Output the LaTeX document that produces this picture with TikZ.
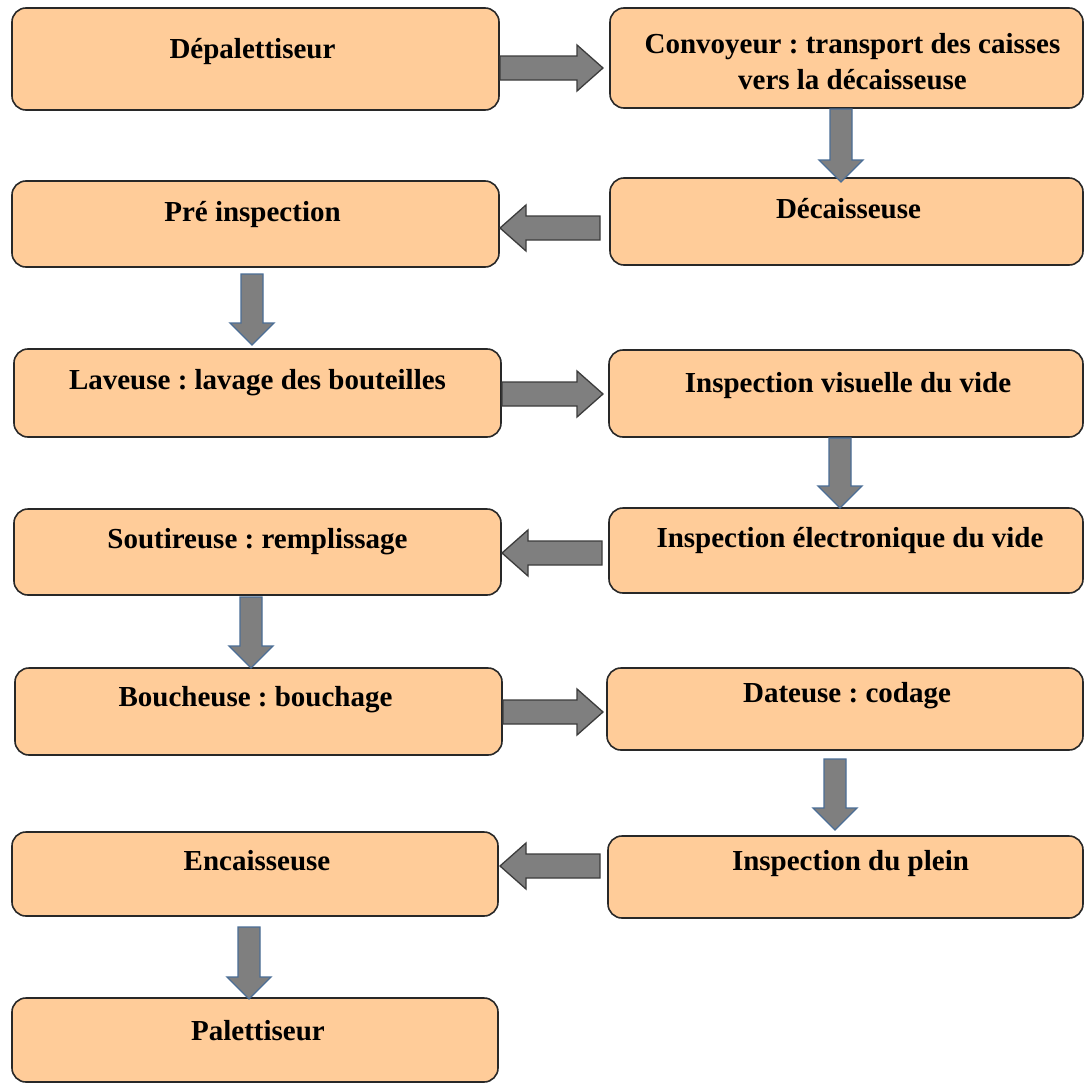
\documentclass[tikz,border=0pt]{standalone}
\usepackage{fontspec}
\setmainfont{Liberation Serif}
\usetikzlibrary{calc}
\frenchspacing
\definecolor{peach}{RGB}{255,204,153}
\definecolor{arrgray}{RGB}{127,127,127}
\definecolor{hedge}{RGB}{60,60,60}
\definecolor{vedge}{RGB}{75,110,150}
\definecolor{boxedge}{RGB}{40,40,40}
\tikzset{
  box/.style={draw=boxedge, line width=1.6pt, fill=peach, rounded corners=14pt, inner sep=0pt, outer sep=0pt},
  lbl/.style={font=\fontsize{29}{36}\selectfont\bfseries, inner sep=0pt, align=center, anchor=base, text=black},
  harr/.style={fill=arrgray, draw=hedge, line width=1.3pt},
  varr/.style={fill=arrgray, draw=vedge, line width=1.3pt},
}
\newcommand\boxat[5]{\node[box, minimum width={(#4-#2)*1pt}, minimum height={(#5-#3)*1pt}] (#1) at ({(#2+#4)/2},{(#3+#5)/2}) {};}
\newcommand\harrow[2]{\path[harr] let \p1=(#1), \p2=(#2), \n1={ifthenelse(\x2>\x1,1,-1)} in
  (\x1,{\y1+12pt}) -- ({\x2-\n1*26pt},{\y1+12pt}) -- ({\x2-\n1*26pt},{\y1+23pt}) -- (\x2,\y1) --
  ({\x2-\n1*26pt},{\y1-23pt}) -- ({\x2-\n1*26pt},{\y1-12pt}) -- (\x1,{\y1-12pt}) -- cycle;}
\newcommand\varrow[2]{\path[varr] let \p1=(#1), \p2=(#2), \n1={ifthenelse(\y2>\y1,1,-1)} in
  ({\x1-11pt},\y1) -- ({\x1-11pt},{\y2-\n1*22pt}) -- ({\x1-22pt},{\y2-\n1*22pt}) -- (\x1,\y2) --
  ({\x1+22pt},{\y2-\n1*22pt}) -- ({\x1+11pt},{\y2-\n1*22pt}) -- ({\x1+11pt},\y1) -- cycle;}
\begin{document}
\begin{tikzpicture}[x=1pt,y=-1pt]
\fill[white] (0,0) rectangle (1085,1084);
\useasboundingbox (0,0) rectangle (1085,1084);
% boxes
\boxat{L1}{12}{8}{499}{110}
\boxat{R1}{610}{8}{1083}{108}
\boxat{L2}{12}{181}{499}{267}
\boxat{R2}{610}{178}{1083}{265}
\boxat{L3}{14}{349}{501}{437}
\boxat{R3}{609}{350}{1083}{437}
\boxat{L4}{14}{509}{501}{595}
\boxat{R4}{609}{508}{1083}{593}
\boxat{L5}{15}{668}{502}{755}
\boxat{R5}{607}{668}{1083}{750}
\boxat{L6}{12}{832}{498}{916}
\boxat{R6}{608}{836}{1083}{918}
\boxat{L7}{12}{998}{498}{1082}
% labels
\node[lbl] (L1t) at ($(L1.north)+(-3,50)$) {Dépalettiseur};
\node[lbl] (R1t) at ($(R1.north)+(6,81)$) {Convoyeur : transport des caisses\\vers la décaisseuse};
\node[lbl] (L2t) at ($(L2.north)+(-3,40)$) {Pré inspection};
\node[lbl] (R2t) at ($(R2.north)+(2,40)$) {Décaisseuse};
\node[lbl] (L3t) at ($(L3.north)+(0,40)$) {Laveuse : lavage des bouteilles};
\node[lbl] (R3t) at ($(R3.north)+(2,42)$) {Inspection visuelle du vide};
\node[lbl] (L4t) at ($(L4.north)+(0,39)$) {Soutireuse : remplissage};
\node[lbl] (R4t) at ($(R4.north)+(4,39)$) {Inspection électronique du vide};
\node[lbl] (L5t) at ($(L5.north)+(-3,38)$) {Boucheuse : bouchage};
\node[lbl] (R5t) at ($(R5.north)+(2,34)$) {Dateuse : codage};
\node[lbl] (L6t) at ($(L6.north)+(2,38)$) {Encaisseuse};
\node[lbl] (R6t) at ($(R6.north)+(5,34)$) {Inspection du plein};
\node[lbl] (L7t) at ($(L7.north)+(3,42)$) {Palettiseur};
% arrow end points
\coordinate (h1a) at (500,68);  \coordinate (h1b) at (603,68);
\coordinate (h2a) at (600,228); \coordinate (h2b) at (500,228);
\coordinate (h3a) at (502,394); \coordinate (h3b) at (603,394);
\coordinate (h4a) at (602,553); \coordinate (h4b) at (502,553);
\coordinate (h5a) at (503,712); \coordinate (h5b) at (603,712);
\coordinate (h6a) at (600,866); \coordinate (h6b) at (500,866);
\coordinate (v1a) at (841,109); \coordinate (v1b) at (841,182);
\coordinate (v2a) at (252,274); \coordinate (v2b) at (252,345);
\coordinate (v3a) at (840,438); \coordinate (v3b) at (840,508);
\coordinate (v4a) at (251,597); \coordinate (v4b) at (251,668);
\coordinate (v5a) at (835,759); \coordinate (v5b) at (835,830);
\coordinate (v6a) at (249,927); \coordinate (v6b) at (249,999);
\harrow{h1a}{h1b}
\harrow{h2a}{h2b}
\harrow{h3a}{h3b}
\harrow{h4a}{h4b}
\harrow{h5a}{h5b}
\harrow{h6a}{h6b}
\varrow{v1a}{v1b}
\varrow{v2a}{v2b}
\varrow{v3a}{v3b}
\varrow{v4a}{v4b}
\varrow{v5a}{v5b}
\varrow{v6a}{v6b}
\end{tikzpicture}
\end{document}
